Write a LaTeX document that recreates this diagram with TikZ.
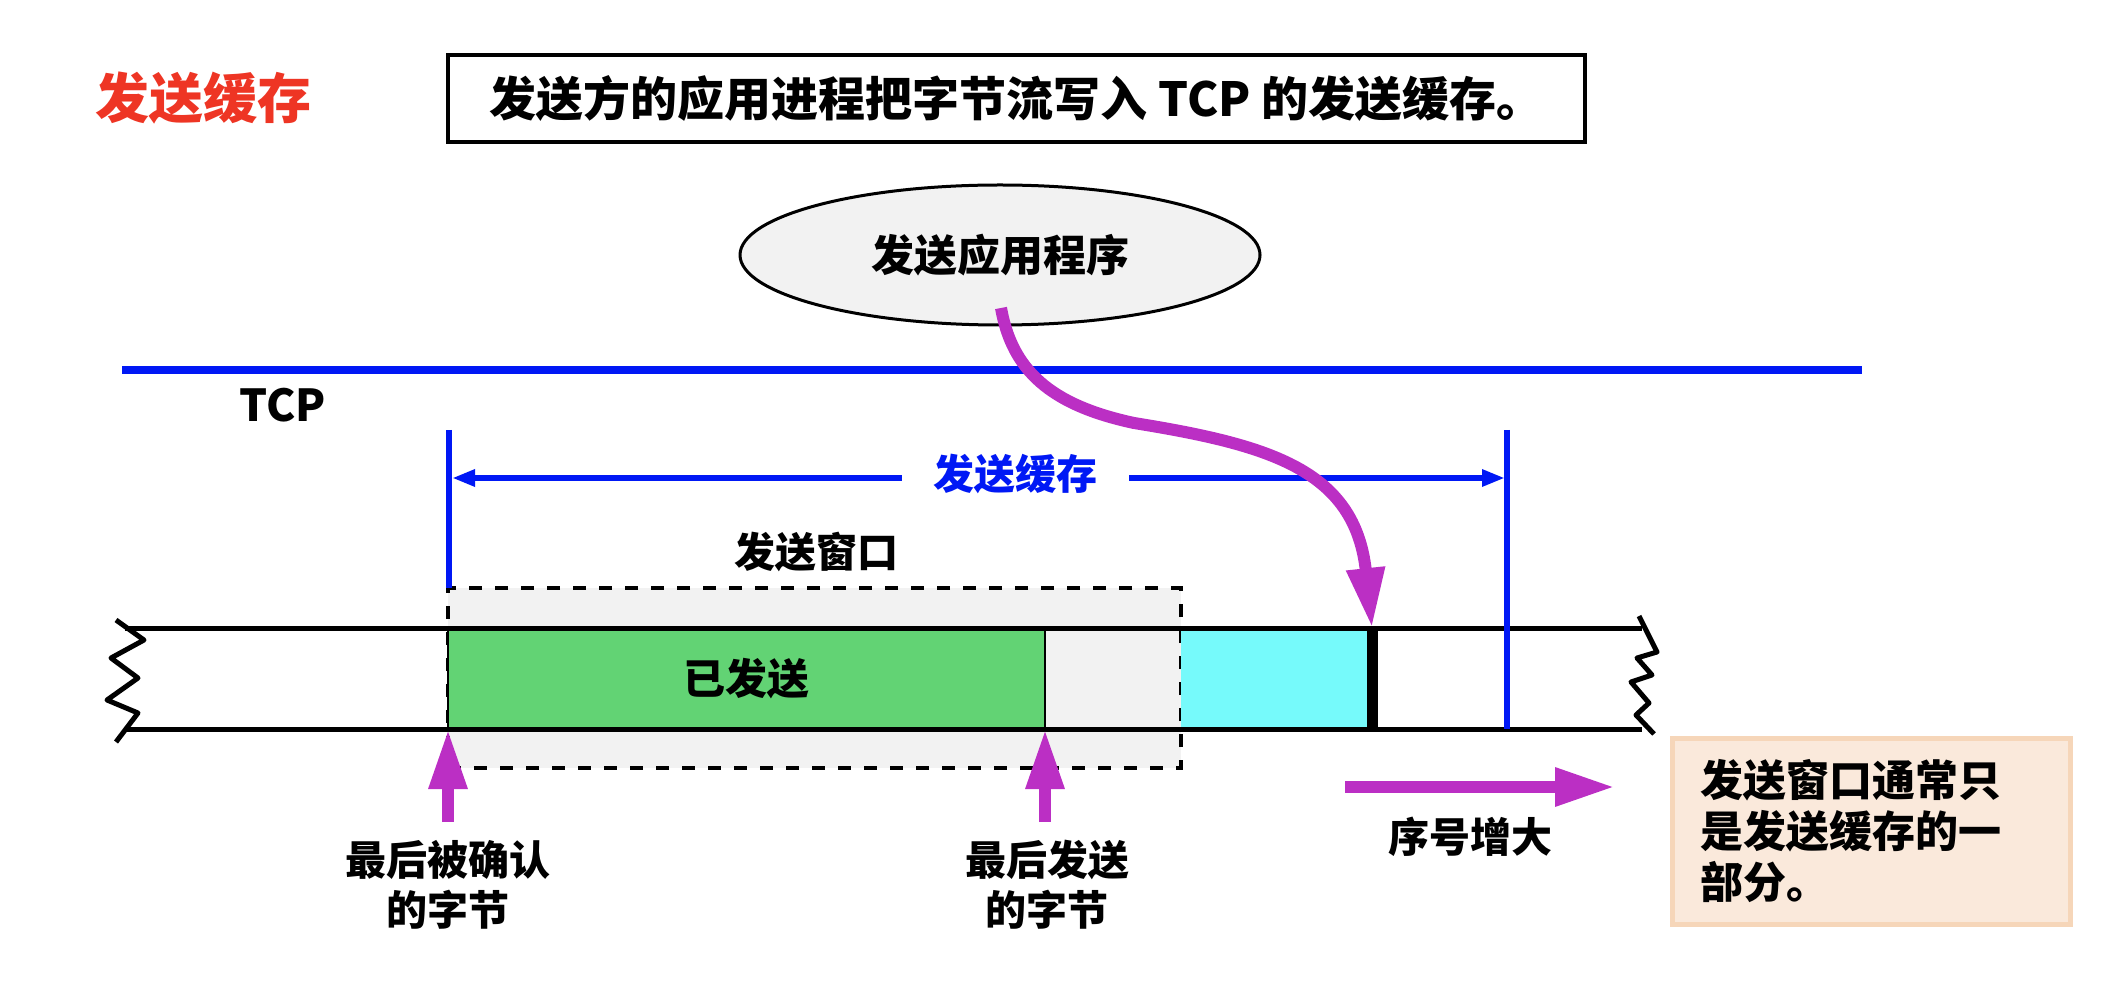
\documentclass[tikz,border=0pt]{standalone}
\usepackage{fontspec}
\setmainfont{Noto Sans CJK SC}[BoldFont={Noto Sans CJK SC Black}]
\usetikzlibrary{arrows.meta,shapes.geometric,calc}
\definecolor{tcpblue}{RGB}{0,24,245}
\definecolor{flowmag}{RGB}{187,47,196}
\definecolor{sentgreen}{RGB}{98,211,116}
\definecolor{readycyan}{RGB}{118,250,251}
\definecolor{wingray}{RGB}{242,242,242}
\definecolor{notefill}{RGB}{250,233,219}
\definecolor{noteedge}{RGB}{246,214,185}
\definecolor{titlered}{RGB}{238,53,36}
\begin{document}
\begin{tikzpicture}[x=0.5pt,y=-0.5pt,
  every node/.style={font=\bfseries},
  lbl/.style={font=\bfseries\fontsize{20.5pt}{25pt}\selectfont, align=center},
  cell/.style={rectangle, inner sep=0pt, outer sep=0pt, minimum height=50.5pt},
  stripline/.style={line width=2.5pt, black},
  zig/.style={line width=2.5pt, black, line join=round},
  bufline/.style={line width=3pt, tcpblue},
  bufarrow/.style={line width=3pt, tcpblue, {Triangle[length=11.5pt,width=8pt]}-{Triangle[length=11.5pt,width=8pt]}},
  magarrow/.style={line width=6pt, flowmag, -{Triangle[length=30pt,width=18pt]}},
]
\useasboundingbox (0,0) rectangle (2128,988);

% heading and statement
\node[text=titlered, font=\bfseries\fontsize{27pt}{30pt}\selectfont] (title) at (203,98) {发送缓存};
\node[draw, line width=2pt, minimum width=568.5pt, minimum height=43.5pt, inner sep=0pt,
      font=\bfseries\fontsize{23.5pt}{28pt}\selectfont] (stmt) at (1016.5,98.5)
      {发送方的应用进程把字节流写入 TCP 的发送缓存。};

% application process
\node[ellipse, draw, line width=1.5pt, fill=wingray, minimum width=260pt, minimum height=70pt,
      font=\bfseries\fontsize{21.5pt}{25pt}\selectfont] (app) at (1000,255) {发送应用程序};

% TCP boundary
\coordinate (tcpL) at (122,370);
\coordinate (tcpR) at (1862,370);
\draw[line width=4pt, tcpblue] (tcpL) -- (tcpR);
\node[font=\bfseries\fontsize{22pt}{25pt}\selectfont] (tcp) at (283,405) {TCP};

% send window (dashed)
\node[cell, fill=wingray, draw, dashed, dash pattern=on 6.5pt off 6.5pt, line width=2pt,
      minimum width=366.5pt, minimum height=90pt] (win) at (814.5,678) {};
\node[lbl] (winlbl) at (816,552) {发送窗口};

% buffer cells
\node[cell, fill=sentgreen, draw, line width=1pt, minimum width=298.5pt,
      font=\bfseries\fontsize{21pt}{25pt}\selectfont] (sent) at (746.5,678.5) {已发送};
\node[cell, fill=readycyan, minimum width=93.5pt] (ready) at (1274.5,678.5) {};

% byte stream strip
\draw[stripline] (125,628) -- (1642,628);
\draw[stripline] (125,729) -- (1642,729);
\node[cell, fill=black, minimum width=5.5pt] (bar) at (1372,678.5) {};
\draw[zig] (116,620) -- (144,640) -- (111,658) -- (138,678) -- (107,700) -- (138,713) -- (116,742);
\draw[zig] (1639,616) -- (1657,652) -- (1637,658) -- (1652,675) -- (1631,682) -- (1649,703) -- (1636,715) -- (1654,734);

% send buffer extent
\coordinate (bufLtop) at (449,430);
\coordinate (bufLbot) at (449,588);
\coordinate (bufRtop) at (1507,430);
\coordinate (bufRbot) at (1507,729);
\draw[bufline] (bufLtop) -- (bufLbot);
\draw[bufline] (bufRtop) -- (bufRbot);
\coordinate (bufA) at (452,478);
\coordinate (bufB) at (1505,478);
\draw[bufarrow] (bufA) -- (bufB);
\node[fill=white, text=tcpblue, minimum width=113.5pt, inner ysep=2pt,
      font=\bfseries\fontsize{20.5pt}{25pt}\selectfont] (buflbl) at (1015,474) {发送缓存};

% bytes written by the application
\coordinate (wstart) at (1001,308);
\draw[magarrow] (wstart) .. controls (1012,370) and (1050,405) .. (1134,423)
      .. controls (1270,445) and (1355,470) .. (bar.north);

% pointers into the buffer
\node[lbl] (acklbl) at (448,885) {最后被确认\\的字节};
\node[lbl] (lastlbl) at (1047,885) {最后发送\\的字节};
\coordinate (ackfoot) at (448,822);
\coordinate (lastfoot) at (1045,822);
\draw[magarrow] (ackfoot) -- (sent.south west);
\draw[magarrow] (lastfoot) -- (sent.south east);

% sequence direction
\coordinate (seqA) at (1345,787);
\coordinate (seqB) at (1615,787);
\draw[magarrow] (seqA) -- (seqB);
\node[lbl] (seqlbl) at (1470,837) {序号增大};

% note
\node[draw=noteedge, line width=2.5pt, fill=notefill, minimum width=199pt, minimum height=93pt,
      text width=171pt, inner xsep=14pt, align=left,
      font=\bfseries\fontsize{21.5pt}{25.5pt}\selectfont] (note) at (1871,831.5)
      {发送窗口通常只\\是发送缓存的一\\部分。};
\end{tikzpicture}
\end{document}
